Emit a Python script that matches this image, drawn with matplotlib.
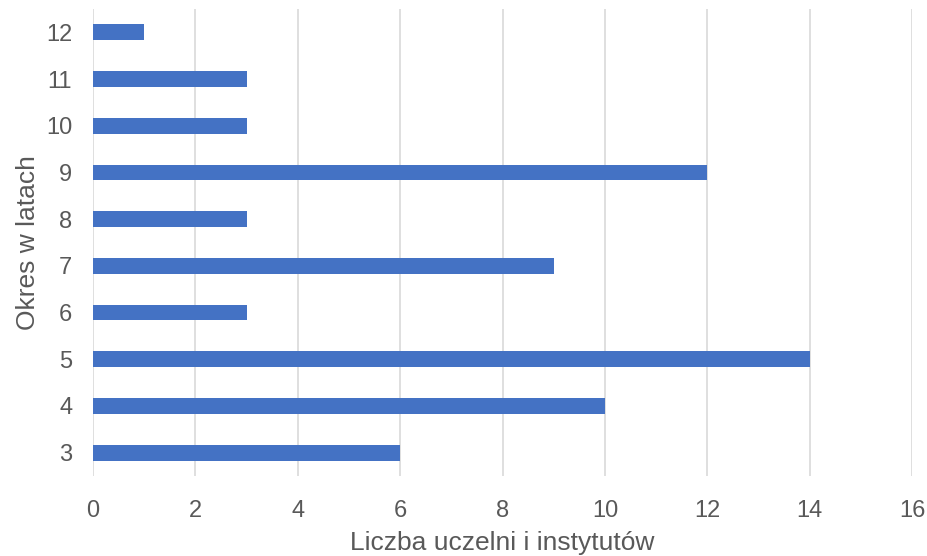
import matplotlib.pyplot as plt

periods = ["3", "4", "5", "6", "7", "8", "9", "10", "11", "12"]
counts = [6, 10, 14, 3, 9, 3, 12, 3, 3, 1]
x_ticks = [0, 2, 4, 6, 8, 10, 12, 14, 16]

plt.rcParams["font.family"] = ["Liberation Sans", "DejaVu Sans"]
TEXT = "#595959"

fig = plt.figure(figsize=(9.28, 5.56), dpi=100)
ax = fig.add_axes([0.1002, 0.1439, 0.8826, 0.8399])

ax.barh(periods, counts, height=0.34, color="#4472C4", zorder=3)
ax.set_xlim(0, 16)
ax.set_ylim(-0.5, len(periods) - 0.5)
ax.set_xticks(x_ticks)
ax.grid(axis="x", color="#D9D9D9", linewidth=1.2, zorder=0)
for s in ax.spines.values():
    s.set_visible(False)
ax.tick_params(length=0, labelsize=17, labelcolor=TEXT)
ax.tick_params(axis="x", pad=17)
ax.tick_params(axis="y", pad=15)
ax.set_xlabel("Liczba uczelni i instytutów", fontsize=19, color=TEXT, labelpad=7)
ax.set_ylabel("Okres w latach", fontsize=19, color=TEXT, labelpad=4)

fig.savefig("out.png", dpi=100, facecolor="white")
